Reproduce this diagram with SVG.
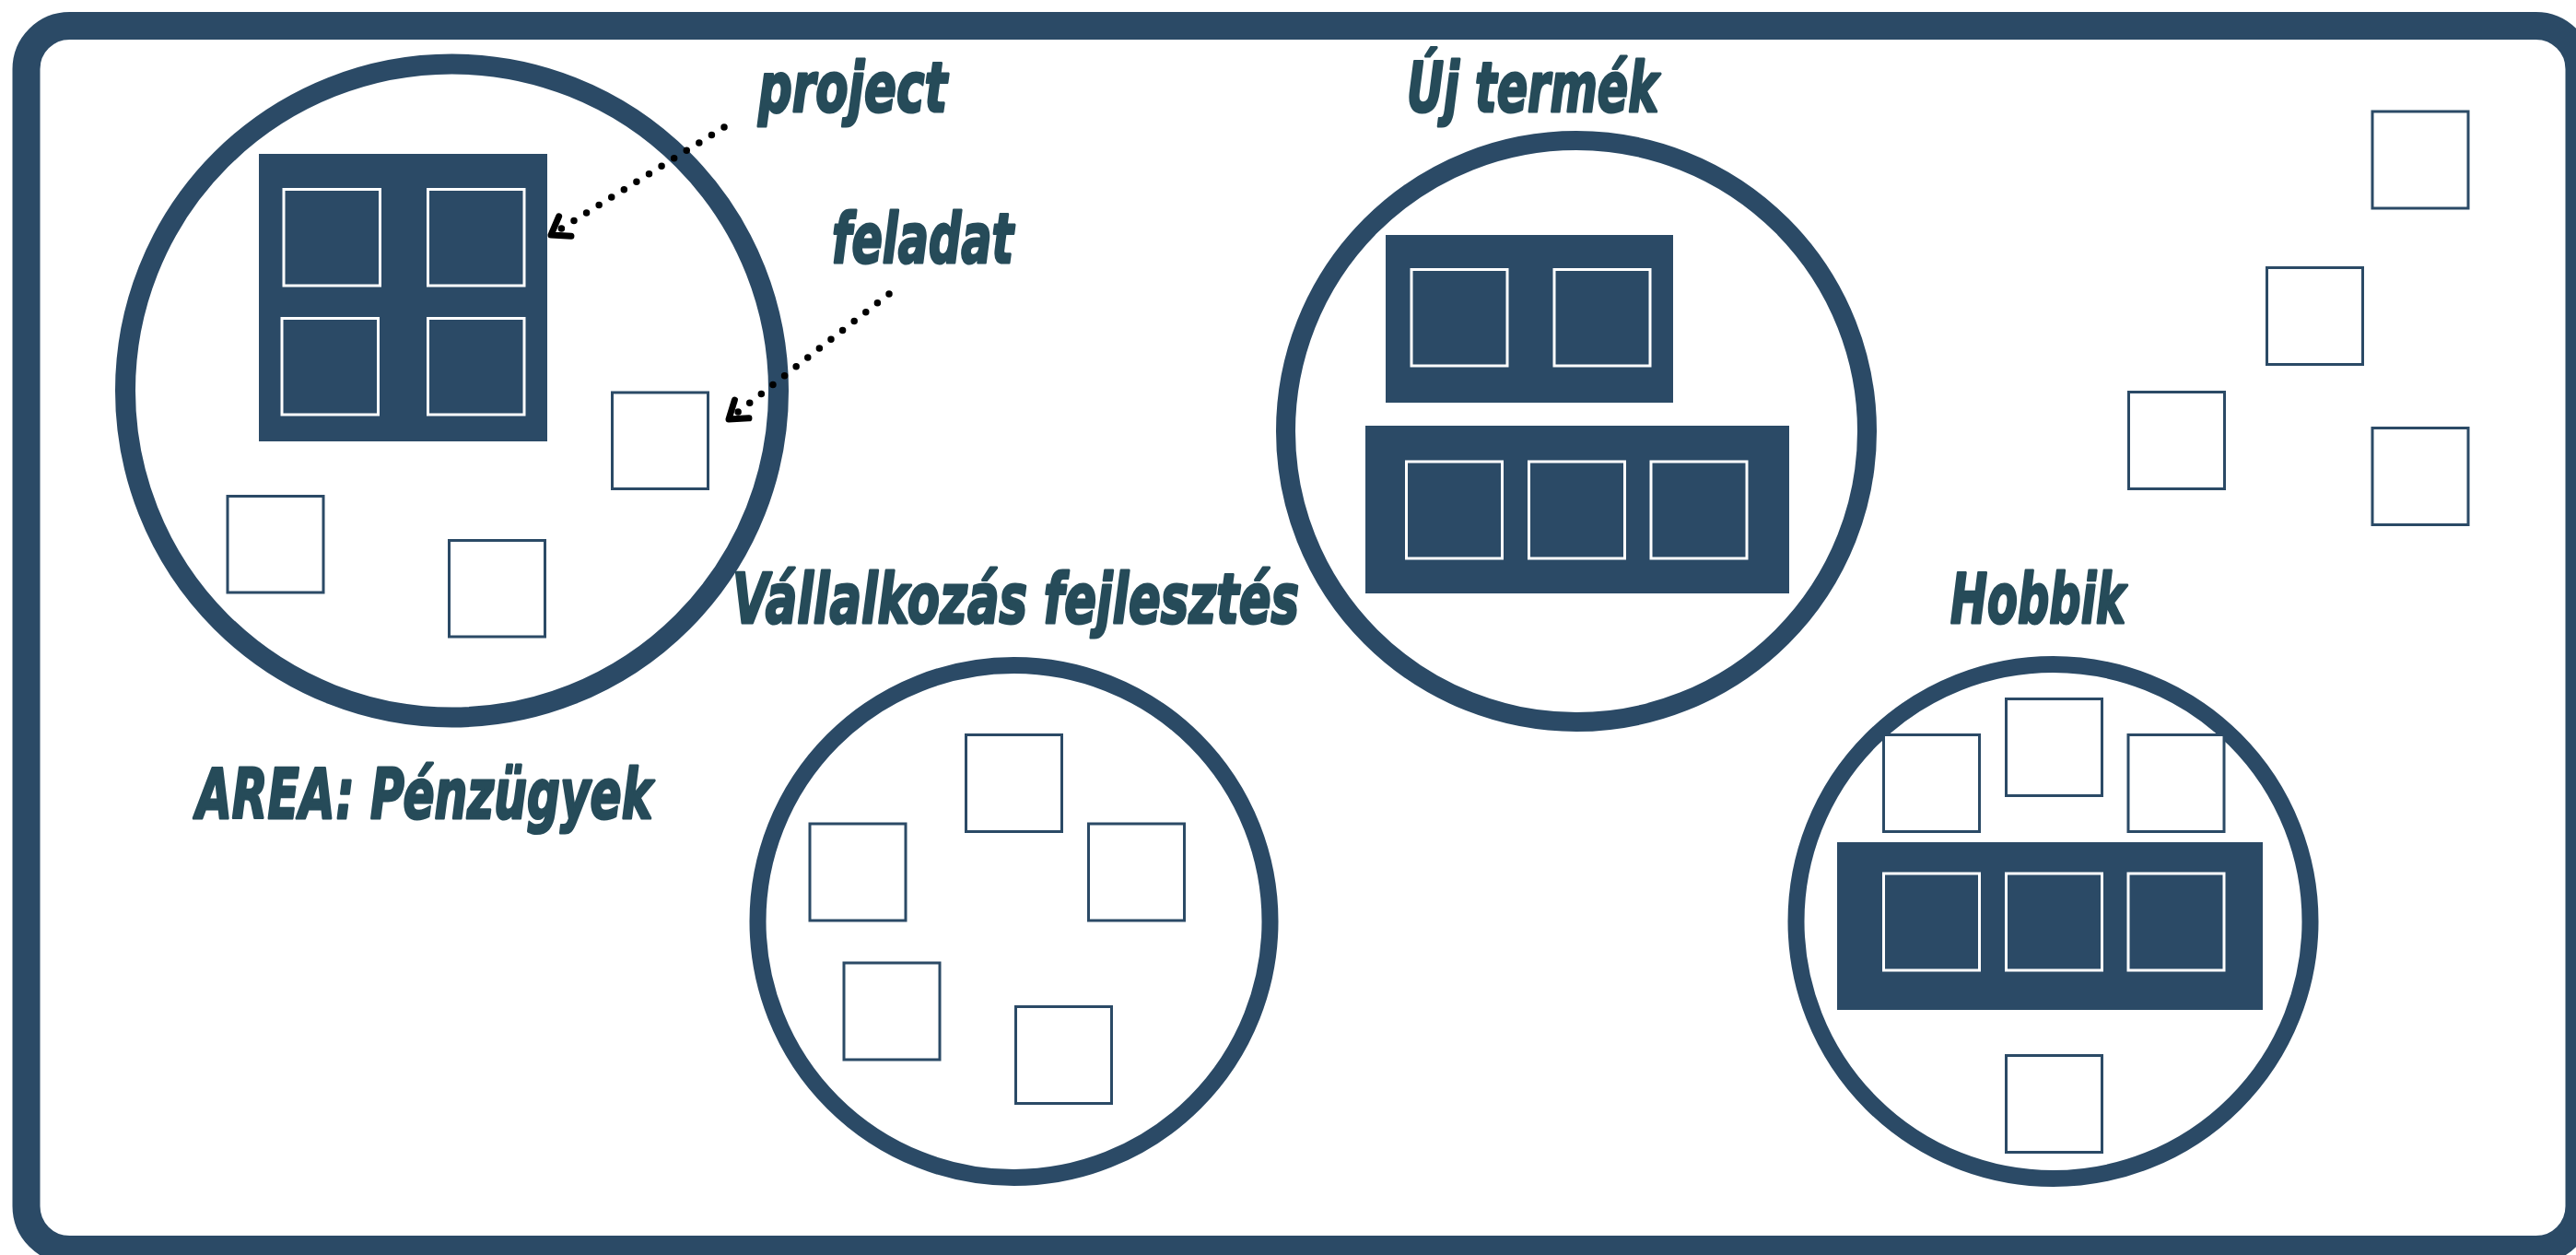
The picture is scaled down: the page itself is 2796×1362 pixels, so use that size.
<svg xmlns="http://www.w3.org/2000/svg" width="2796" height="1362" viewBox="0 0 2796 1362">
<defs>
<style>
.frame{fill:#ffffff;stroke:#2b4a66;stroke-width:30}
.area{fill:#ffffff;stroke:#2b4a66}
.proj{fill:#2b4a66}
.task{fill:#ffffff;stroke:#2b4a66;stroke-width:3}
.ptask{fill:#2b4a66;stroke:#ffffff;stroke-width:3}
.lbl{font-family:"DejaVu Sans","Liberation Sans",sans-serif;font-weight:bold;font-style:italic;font-size:75px;fill:#264b59;stroke:#264b59;stroke-width:3;stroke-linejoin:round}
.dot{fill:none;stroke:#000000;stroke-width:7.5;stroke-linecap:round;stroke-dasharray:0 16}
</style>
<marker id="ah" markerUnits="userSpaceOnUse" markerWidth="60" markerHeight="60" viewBox="-30 -30 60 60" refX="0" refY="0" orient="auto" overflow="visible">
<path d="M-18,-12.6 L0,0 L-18,12.6" fill="none" stroke="#000000" stroke-width="7" stroke-linecap="round" stroke-linejoin="round"/>
</marker>
</defs>
<rect width="2796" height="1362" fill="#ffffff"/>
<g id="frame">
<rect class="frame" x="28.5" y="28" width="2771" height="1328" rx="47" ry="47"/>
</g>
<g id="area-penzugyek">
<circle class="area" cx="490.5" cy="424" r="354.5" stroke-width="22"/>
<g id="project-1">
<rect class="proj" x="281" y="167" width="313" height="312"/>
<rect class="ptask" x="308" y="205.5" width="104.5" height="104.5"/>
<rect class="ptask" x="464.5" y="205.5" width="104.5" height="104.5"/>
<rect class="ptask" x="306" y="345.5" width="104.5" height="104.5"/>
<rect class="ptask" x="464.5" y="345.5" width="104.5" height="104.5"/>
</g>
<rect class="task" x="664.5" y="426" width="104" height="104.5"/>
<rect class="task" x="247" y="538.5" width="104" height="104.5"/>
<rect class="task" x="487.5" y="586.5" width="104" height="104.5"/>
<text class="lbl" x="213" y="888" textLength="495" lengthAdjust="spacingAndGlyphs">AREA: Pénzügyek</text>
</g>
<g id="area-uj-termek">
<circle class="area" cx="1711" cy="468" r="315.5" stroke-width="21"/>
<g id="project-2">
<rect class="proj" x="1504" y="255" width="312" height="182"/>
<rect class="ptask" x="1532" y="292.5" width="104" height="104.5"/>
<rect class="ptask" x="1687" y="292.5" width="104" height="104.5"/>
</g>
<g id="project-3">
<rect class="proj" x="1482" y="462" width="460" height="182"/>
<rect class="ptask" x="1526.5" y="501" width="104" height="105"/>
<rect class="ptask" x="1659.5" y="501" width="104" height="105"/>
<rect class="ptask" x="1792" y="501" width="104" height="105"/>
</g>
<text class="lbl" x="1527" y="121" textLength="273" lengthAdjust="spacingAndGlyphs">Új termék</text>
</g>
<g id="area-vallalkozas">
<circle class="area" cx="1100.5" cy="1000" r="278" stroke-width="18"/>
<rect class="task" x="1048.5" y="797.5" width="104" height="105"/>
<rect class="task" x="879" y="894" width="104" height="105"/>
<rect class="task" x="1181.5" y="894" width="104" height="105"/>
<rect class="task" x="916" y="1045" width="104" height="105"/>
<rect class="task" x="1102.5" y="1092.5" width="104" height="105"/>
<text class="lbl" x="795" y="676" textLength="615" lengthAdjust="spacingAndGlyphs">Vállalkozás fejlesztés</text>
</g>
<g id="area-hobbik">
<circle class="area" cx="2228.5" cy="1000" r="279" stroke-width="18"/>
<rect class="task" x="2044.5" y="797.5" width="104" height="105"/>
<rect class="task" x="2177.5" y="758.5" width="104" height="105"/>
<rect class="task" x="2310" y="797.5" width="104" height="105"/>
<g id="project-4">
<rect class="proj" x="1994" y="914" width="462" height="182"/>
<rect class="ptask" x="2044.5" y="948" width="104" height="105"/>
<rect class="ptask" x="2177.5" y="948" width="104" height="105"/>
<rect class="ptask" x="2310" y="948" width="104" height="105"/>
</g>
<rect class="task" x="2177.5" y="1145.5" width="104" height="105"/>
<text class="lbl" x="2117" y="676" textLength="190" lengthAdjust="spacingAndGlyphs">Hobbik</text>
</g>
<g id="loose-tasks">
<rect class="task" x="2575" y="121" width="104" height="105"/>
<rect class="task" x="2460.5" y="290.5" width="104" height="105"/>
<rect class="task" x="2310.5" y="425.5" width="104" height="105"/>
<rect class="task" x="2575" y="464.5" width="104" height="105"/>
</g>
<g id="label-project">
<text class="lbl" x="823" y="121" textLength="205" lengthAdjust="spacingAndGlyphs">project</text>
</g>
<g id="label-feladat">
<text class="lbl" x="903" y="285" textLength="197" lengthAdjust="spacingAndGlyphs">feladat</text>
</g>
<g id="connectors">
<path class="dot" d="M786,138 L598,255" marker-end="url(#ah)"/>
<path class="dot" d="M965,319 L791,455" marker-end="url(#ah)"/>
</g>
</svg>
